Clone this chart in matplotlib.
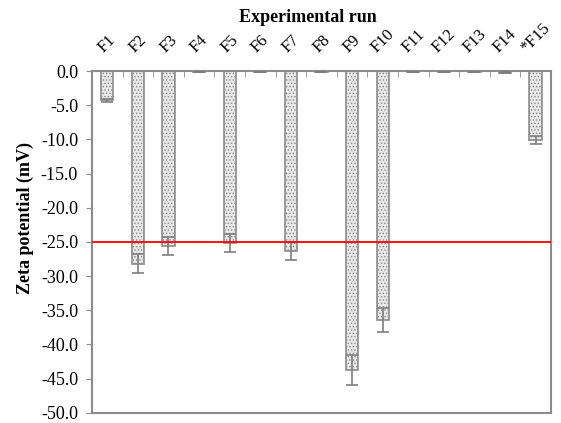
import numpy as np
import matplotlib
matplotlib.use('Agg')
import matplotlib.pyplot as plt

plt.rcParams['font.family'] = ['Liberation Serif', 'DejaVu Serif']
plt.rcParams['hatch.linewidth'] = 0.6

runs = ['F1', 'F2', 'F3', 'F4', 'F5', 'F6', 'F7', 'F8', 'F9', 'F10',
        'F11', 'F12', 'F13', 'F14', '*F15']
zeta = [-4.3, -28.2, -25.6, -0.15, -25.2, -0.15, -26.3, -0.15, -43.7, -36.4,
        -0.15, -0.15, -0.15, -0.25, -10.1]
err = [0.2, 1.4, 1.3, 0.05, 1.3, 0.05, 1.3, 0.05, 2.2, 1.8,
       0.05, 0.05, 0.05, 0.1, 0.6]
threshold = -25.0

fig = plt.figure(figsize=(5.61, 4.23), dpi=100)
ax = fig.add_axes([0.164, 0.024, 0.818, 0.808])

x = np.arange(len(runs))
ax.bar(x, zeta, width=0.4, color='#e8e8e8', edgecolor='#8c8c8c',
       hatch='.....', linewidth=1.2, zorder=2)
ax.errorbar(x, zeta, yerr=err, fmt='none', ecolor='#7f7f7f',
            elinewidth=1.2, capsize=4, capthick=1.2, zorder=3)
ax.axhline(threshold, color='#ff0000', linewidth=1.3, zorder=4)

ax.set_xlim(-0.5, len(runs) - 0.5)
ax.set_ylim(-50, 0)
yt = np.arange(-50, 0.1, 5)
ax.set_yticks(yt)
ax.set_yticklabels(['%.1f' % v for v in yt], fontsize=13)

ax.xaxis.tick_top()
ax.set_xticks(x)
ax.set_xticklabels(runs, rotation=45, ha='center', va='bottom', fontsize=12)
ax.tick_params(axis='x', length=0, pad=11)
ax.set_xticks(np.arange(0.5, len(runs) - 1, 1), minor=True)
ax.tick_params(axis='x', which='minor', direction='in', length=4,
               color='#8c8c8c', top=True, bottom=False)
ax.tick_params(axis='y', length=4, color='#8c8c8c', pad=6)

fig.text(308 / 561, 1 - 18 / 423, 'Experimental run', fontsize=13,
         fontweight='bold', ha='center', va='center')
fig.text(25 / 561, 1 - 218 / 423, 'Zeta potential (mV)', fontsize=13,
         fontweight='bold', ha='center', va='center', rotation=90)

for s in ax.spines.values():
    s.set_color('#8c8c8c')
    s.set_linewidth(1.5)

fig.savefig('out.png', dpi=100)
